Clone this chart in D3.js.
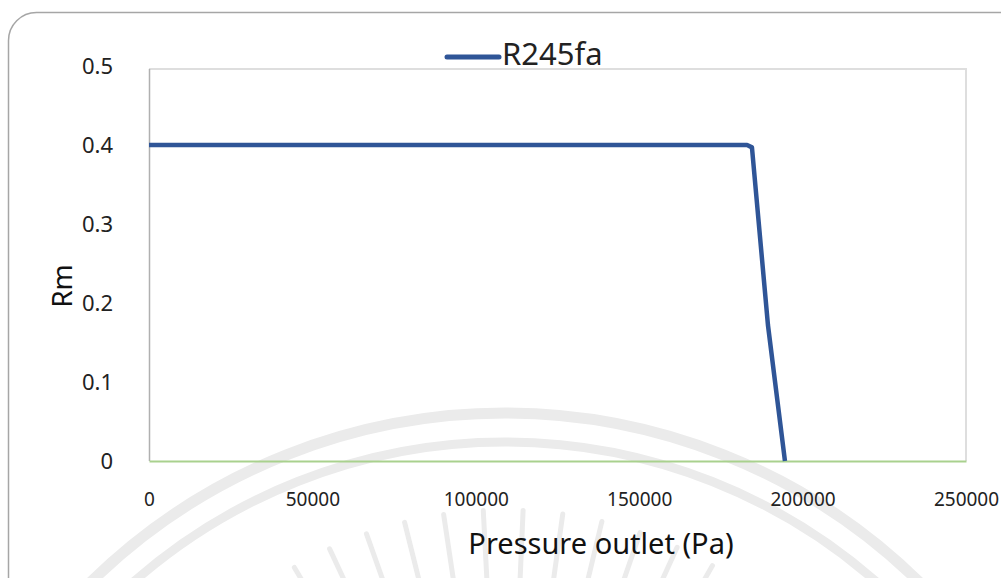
<!DOCTYPE html>
<html>
<head>
<meta charset="utf-8">
<script src="https://cdn.jsdelivr.net/npm/d3@7"></script>
<style>
  body { margin: 0; background: #fff; }
  svg { display: block; font-family: "Noto Sans", "Open Sans", sans-serif; }
</style>
</head>
<body>
<script>
"use strict";
(function(){
    // data
    const seriesName = "R245fa"
    const pressure = [0, 20000, 40000, 60000, 80000, 100000, 120000, 140000, 160000, 180000, 183000, 184500, 189400, 194600]
    const rm       = [0.4, 0.4, 0.4, 0.4, 0.4, 0.4, 0.4, 0.4, 0.4, 0.4, 0.4, 0.397, 0.172, 0]
    const xTicks = [0, 50000, 100000, 150000, 200000, 250000]
    const yTicks = [0, 0.1, 0.2, 0.3, 0.4, 0.5]

    const measurements = {
        width: 1001,
        height: 578,
        left: 149,
        right: 966,
        top: 66,
        bottom: 461
    }

    let svgContainer = d3.select('body').append("svg")
        .attr('width', measurements.width)
        .attr('height', measurements.height)

    let scaleX = d3.scaleLinear()
        .domain([0, 250000])
        .range([measurements.left, measurements.right])
    let scaleY = d3.scaleLinear()
        .domain([0, 0.5])
        .range([measurements.bottom, measurements.top])

    drawWatermark()
    drawFrame()
    drawAxes()
    plotData()
    drawLegend()

    // faint emblem behind the chart
    function drawWatermark() {
        let wm = svgContainer.append('g')
            .attr('fill', 'none')
            .attr('stroke', '#ebebeb')
        const cx = 505
        wm.append('circle').attr('cx', cx).attr('cy', 1005).attr('r', 592).attr('stroke-width', 11)
        wm.append('circle').attr('cx', cx).attr('cy', 1005).attr('r', 563).attr('stroke-width', 9)
        // rays pointing towards the emblem centre
        for (let a = -36; a <= 30; a += 5.5) {
            let rad = a * Math.PI / 180
            wm.append('line')
                .attr('x1', cx + 415 * Math.sin(rad))
                .attr('y1', 925 - 415 * Math.cos(rad))
                .attr('x2', cx + 250 * Math.sin(rad))
                .attr('y2', 925 - 250 * Math.cos(rad))
                .attr('stroke-width', 5)
                .attr('stroke-linecap', 'round')
        }
    }

    function drawFrame() {
        // outer rounded border
        svgContainer.append('rect')
            .attr('x', 8.5).attr('y', 12.5)
            .attr('width', 1100).attr('height', 700)
            .attr('rx', 28).attr('ry', 28)
            .attr('fill', 'none')
            .attr('stroke', '#a6a6a6')
            .attr('stroke-width', 1.5)

        // plot area top + right
        svgContainer.append('path')
            .attr('d', `M${measurements.left},${scaleY(0.5) + 3}H${measurements.right}V${measurements.bottom}`)
            .attr('fill', 'none')
            .attr('stroke', '#dedede')
            .attr('stroke-width', 2)
    }

    function drawAxes() {
        let xAxis = d3.axisBottom(scaleX)
            .tickValues(xTicks)
            .tickSize(0)
            .tickPadding(32)
            .tickFormat(d3.format("d"))
        let yAxis = d3.axisLeft(scaleY)
            .tickValues(yTicks)
            .tickSize(0)
            .tickPadding(36)
            .tickFormat(d => d === 0 ? "0" : d3.format(".1f")(d))

        let gy = svgContainer.append('g')
            .attr('transform', `translate(${measurements.left}, 0)`)
            .call(yAxis)
        gy.select('.domain')
            .attr('d', `M0.5,${scaleY(0.5) + 3}V${measurements.bottom}`)
            .attr('stroke', '#b0b0b0')
            .attr('stroke-width', 1.5)
        gy.selectAll('text')
            .attr('font-size', 22)
            .attr('fill', '#222')
            .attr('font-family', '"Noto Sans", sans-serif')

        let gx = svgContainer.append('g')
            .attr('transform', `translate(0, ${measurements.bottom})`)
            .call(xAxis)
        gx.select('.domain')
            .attr('stroke', '#a9d18e')
            .attr('stroke-width', 2)
        gx.selectAll('text')
            .attr('font-size', 19)
            .attr('fill', '#222')
            .attr('font-family', '"Noto Sans", sans-serif')

        // axis titles
        svgContainer.append('text')
            .attr('x', 601).attr('y', 554)
            .attr('text-anchor', 'middle')
            .attr('font-size', 29)
            .attr('fill', '#111')
            .text('Pressure outlet (Pa)')

        svgContainer.append('text')
            .attr('transform', 'translate(72, 286) rotate(-90)')
            .attr('text-anchor', 'middle')
            .attr('font-size', 28)
            .attr('fill', '#111')
            .text('Rm')
    }

    function plotData() {
        const points = pressure.map((p, i) => [p, rm[i]])
        let line = d3.line()
            .x(d => scaleX(d[0]))
            .y(d => scaleY(d[1]))

        svgContainer.append('path')
            .datum(points)
            .attr('d', line)
            .attr('fill', 'none')
            .attr('stroke', '#2f5597')
            .attr('stroke-width', 4.5)
            .attr('stroke-linejoin', 'round')
    }

    function drawLegend() {
        svgContainer.append('line')
            .attr('x1', 447).attr('x2', 499)
            .attr('y1', 57).attr('y2', 57)
            .attr('stroke', '#2f5597')
            .attr('stroke-width', 5)
            .attr('stroke-linecap', 'round')
        svgContainer.append('text')
            .attr('x', 502).attr('y', 65)
            .attr('font-size', 31)
            .attr('fill', '#222')
            .text(seriesName)
    }
})()
</script>
</body>
</html>
